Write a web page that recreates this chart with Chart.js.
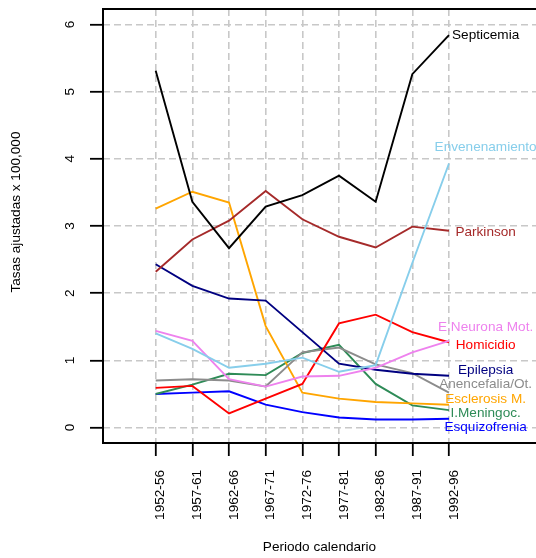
<!DOCTYPE html>
<html>
<head>
<meta charset="utf-8">
<script src="https://cdn.jsdelivr.net/npm/chart.js@4"></script>
<style>
  html, body { margin: 0; padding: 0; background: #ffffff; overflow: hidden; }
  #wrap { width: 536px; height: 558px; }
</style>
</head>
<body>
<div id="wrap"><canvas id="c" width="536" height="558"></canvas></div>
<script>
// ---- data ----
const periods = ["1952-56","1957-61","1962-66","1967-71","1972-76","1977-81","1982-86","1987-91","1992-96"];
const yTicks = [0, 1, 2, 3, 4, 5, 6];

const septicemia     = [5.31, 3.36, 2.67, 3.29, 3.46, 3.75, 3.36, 5.26, 5.84];
const envenenamiento = [1.40, 1.17, 0.89, 0.95, 1.04, 0.83, 0.93, 2.45, 3.93];
const parkinson      = [2.32, 2.80, 3.08, 3.52, 3.10, 2.84, 2.68, 2.99, 2.93];
const neuronaMot     = [1.44, 1.29, 0.72, 0.61, 0.76, 0.77, 0.89, 1.12, 1.29];
const homicidio      = [0.59, 0.62, 0.21, 0.43, 0.65, 1.55, 1.68, 1.42, 1.27];
const epilepsia      = [2.43, 2.11, 1.92, 1.89, 1.42, 0.95, 0.86, 0.80, 0.77];
const anencefalia    = [0.70, 0.72, 0.70, 0.61, 1.12, 1.19, 0.94, 0.81, 0.52];
const esclerosis     = [3.26, 3.51, 3.35, 1.51, 0.52, 0.43, 0.38, 0.36, 0.34];
const meningoc       = [0.50, 0.64, 0.80, 0.78, 1.11, 1.23, 0.65, 0.33, 0.26];
const esquizofrenia  = [0.50, 0.52, 0.54, 0.34, 0.23, 0.15, 0.12, 0.12, 0.13];

const seriesNames  = ["Septicemia","Envenenamiento","Parkinson","E.Neurona Mot.","Homicidio","Epilepsia","Anencefalia/Ot.","Esclerosis M.","I.Meningoc.","Esquizofrenia"];
const seriesValues = [septicemia, envenenamiento, parkinson, neuronaMot, homicidio, epilepsia, anencefalia, esclerosis, meningoc, esquizofrenia];
const seriesColors = ["#000000","#87CEEB","#A52A2A","#EE82EE","#FF0000","#000080","#8C8C8C","#FFA500","#2E8B57","#0000FF"];
// label anchor heights (data units) for the end-of-line labels
const labelY = [5.84, 4.17, 2.90, 1.50, 1.22, 0.86, 0.64, 0.42, 0.22, 0.00];
const labelXIndex = 9;

const FONT = "13.6px 'Liberation Sans', Arial, sans-serif";

const datasets = seriesNames.map((name, i) => ({
  label: name,
  data: seriesValues[i].map((v, j) => ({ x: j, y: v })),
  borderColor: seriesColors[i],
  backgroundColor: seriesColors[i],
  borderWidth: 1.9,
  pointRadius: 0,
  tension: 0,
  fill: false
}));

const textPlugin = {
  id: 'rtext',
  afterDatasetsDraw(chart) {
    const ctx = chart.ctx;
    const xs = chart.scales.x, ys = chart.scales.y;
    ctx.save();
    ctx.font = FONT;
    ctx.textAlign = 'center';
    ctx.textBaseline = 'middle';
    const lx = xs.getPixelForValue(labelXIndex);
    seriesNames.forEach((name, i) => {
      ctx.fillStyle = seriesColors[i];
      ctx.fillText(name, lx, ys.getPixelForValue(labelY[i]));
    });
    ctx.restore();
  },
  afterDraw(chart) {
    const ctx = chart.ctx;
    const a = chart.chartArea;
    const xs = chart.scales.x, ys = chart.scales.y;
    ctx.save();
    // box (left, top, bottom)
    ctx.strokeStyle = '#000';
    ctx.lineWidth = 2;
    ctx.setLineDash([]);
    ctx.beginPath();
    ctx.moveTo(a.right + 5, a.top);
    ctx.lineTo(a.left, a.top);
    ctx.lineTo(a.left, a.bottom);
    ctx.lineTo(a.right + 5, a.bottom);
    ctx.stroke();

    ctx.fillStyle = '#000';
    ctx.font = FONT;
    // y tick labels (rotated)
    ys.ticks.forEach(t => {
      const y = ys.getPixelForValue(t.value);
      ctx.save();
      ctx.translate(70, y);
      ctx.rotate(-Math.PI / 2);
      ctx.textAlign = 'center';
      ctx.textBaseline = 'middle';
      ctx.fillText(String(t.value), 0, 0);
      ctx.restore();
    });
    // x tick labels (rotated, vertical)
    xs.ticks.forEach(t => {
      const x = xs.getPixelForValue(t.value);
      ctx.save();
      ctx.translate(x + 5, a.bottom + 27);
      ctx.rotate(-Math.PI / 2);
      ctx.textAlign = 'right';
      ctx.textBaseline = 'middle';
      ctx.fillText(periods[t.value], 0, 0);
      ctx.restore();
    });
    // axis titles
    ctx.textAlign = 'center';
    ctx.textBaseline = 'middle';
    ctx.fillText('Periodo calendario', (a.left + a.right) / 2, 547);
    ctx.save();
    ctx.translate(16, 212);
    ctx.rotate(-Math.PI / 2);
    ctx.fillText('Tasas ajustadas x 100,000', 0, 0);
    ctx.restore();
    ctx.restore();
  }
};

new Chart(document.getElementById('c'), {
  type: 'line',
  data: { datasets },
  options: {
    responsive: false,
    animation: false,
    events: [],
    layout: { padding: { top: 9, left: 0, right: 0, bottom: 0 } },
    plugins: { legend: { display: false }, tooltip: { enabled: false }, title: { display: false } },
    scales: {
      x: {
        type: 'linear',
        min: -1.4375,
        max: 10.374,
        afterBuildTicks: s => { s.ticks = periods.map((p, i) => ({ value: i })); },
        afterFit: s => { s.height = 115; },
        ticks: { display: false },
        grid: { color: '#c8c8c8', lineWidth: 1.6, tickLength: 13, tickColor: '#000', tickWidth: 1.8, tickBorderDash: [] },
        border: { display: false, dash: [7, 4] }
      },
      y: {
        type: 'linear',
        min: -0.23,
        max: 6.23,
        afterBuildTicks: s => { s.ticks = yTicks.map(v => ({ value: v })); },
        afterFit: s => { s.width = 103; },
        ticks: { display: false },
        grid: { color: '#c8c8c8', lineWidth: 1.6, tickLength: 13, tickColor: '#000', tickWidth: 1.8, tickBorderDash: [] },
        border: { display: false, dash: [7, 4] }
      }
    }
  },
  plugins: [textPlugin]
});
</script>
</body>
</html>
